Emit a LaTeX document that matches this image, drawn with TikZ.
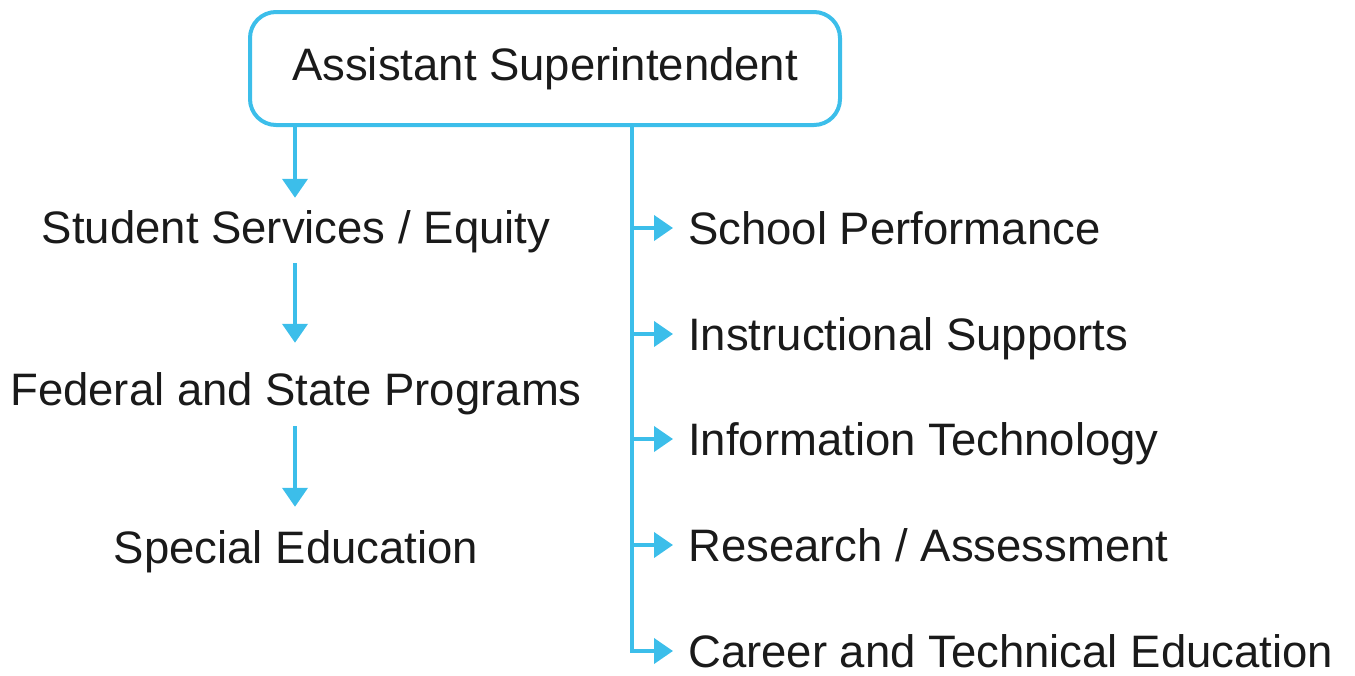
\documentclass[tikz,border=0pt]{standalone}
\usepackage{fontspec}
\setmainfont{Liberation Sans}
\usetikzlibrary{arrows.meta}
\definecolor{lineblue}{RGB}{60,190,234}
\definecolor{txt}{RGB}{26,26,26}
\tikzset{
  lbl/.style={inner xsep=0pt, inner ysep=0pt, text height=33pt, text depth=10pt,
    font=\fontsize{45.5}{54}\selectfont, text=txt},
  rlbl/.style={lbl, text depth=0pt, anchor=west},
  headbox/.style={lbl, draw=lineblue, line width=4pt, rounded corners=26pt,
    minimum width=590pt, minimum height=113pt},
  conn/.style={draw=lineblue, line width=4pt},
  arr/.style={conn, -{Triangle[width=25pt,length=19pt]}}
}
\begin{document}
\begin{tikzpicture}[x=1pt,y=-1pt]
\useasboundingbox (0,0) rectangle (1355,675);
\node[headbox] (title) at (545,68.5) {Assistant Superintendent};
% left column
\node[lbl, anchor=base] (s1) at (296,243) {Student Services / Equity};
\node[lbl, anchor=base] (s2) at (296,405) {Federal and State Programs};
\node[lbl, anchor=base] (s3) at (296,563) {Special Education};
\coordinate (tl) at (295,0);
\draw[arr, shorten <=-2pt, shorten >=12pt] (title.south -| tl) -- (s1.north -| tl);
\draw[arr, shorten <=10pt, shorten >=29pt] (s1.south -| tl) -- (s2.north -| tl);
\draw[arr, shorten <=11pt, shorten >=23pt] (s2.south -| tl) -- (s3.north -| tl);
% right column
\node[rlbl] (r1) at (688,228) {School Performance};
\node[rlbl] (r2) at (688,334) {Instructional Supports};
\node[rlbl] (r3) at (688,439) {Information Technology};
\node[rlbl] (r4) at (688,545) {Research / Assessment};
\node[rlbl] (r5) at (688,651) {Career and Technical Education};
\coordinate (tr) at (632,0);
\draw[arr, shorten >=15pt] ([yshift=2pt]title.south -| tr) |- (r5.west);
\draw[arr, shorten >=15pt] (r1.west -| tr) -- (r1.west);
\draw[arr, shorten >=15pt] (r2.west -| tr) -- (r2.west);
\draw[arr, shorten >=15pt] (r3.west -| tr) -- (r3.west);
\draw[arr, shorten >=15pt] (r4.west -| tr) -- (r4.west);
\end{tikzpicture}
\end{document}
